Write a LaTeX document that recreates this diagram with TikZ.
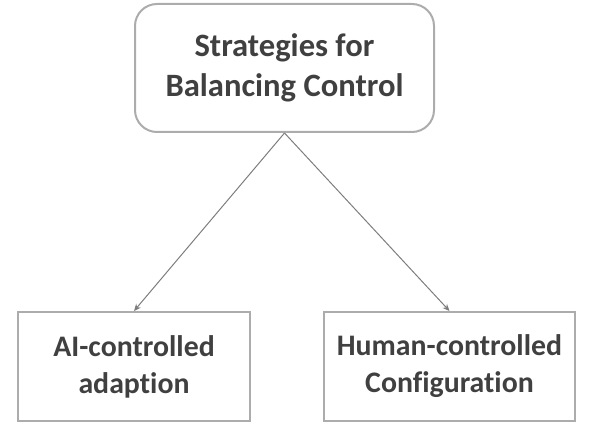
\documentclass[tikz,border=0pt]{standalone}
\usepackage{fontspec}
\setmainfont{Carlito}[Ligatures=NoCommon]
\usetikzlibrary{arrows.meta,positioning}
\definecolor{boxline}{RGB}{172,172,172}
\definecolor{boxtext}{RGB}{64,64,64}
\definecolor{arrowline}{RGB}{125,125,125}

\begin{document}
\begin{tikzpicture}[
    x=1pt,y=1pt,
    box/.style={draw=boxline,line width=2pt,align=center,inner sep=0pt,
      text=boxtext,font=\bfseries\fontsize{29.8}{37}\selectfont},
    rootbox/.style={box,rounded corners=22pt,minimum width=299pt,minimum height=128pt,
      font=\bfseries\fontsize{32.6}{40}\selectfont},
    leafbox/.style={box,minimum height=109pt},
    >={Stealth[length=7pt,width=6pt]}]
  \useasboundingbox (0,0) rectangle (594,429);
  \node[rootbox] (strategies) at (284.5,361) {Strategies for\\Balancing Control};
  \node[leafbox,minimum width=232pt] (ai) at (134,62.5) {AI-controlled\\adaption};
  \node[leafbox,minimum width=251pt] (human) at (449.5,62.5) {Human-controlled\\Configuration};
  \draw[->,arrowline,line width=1pt] (strategies.south) -- (ai.north);
  \draw[->,arrowline,line width=1pt] (strategies.south) -- (human.north);
\end{tikzpicture}
\end{document}
